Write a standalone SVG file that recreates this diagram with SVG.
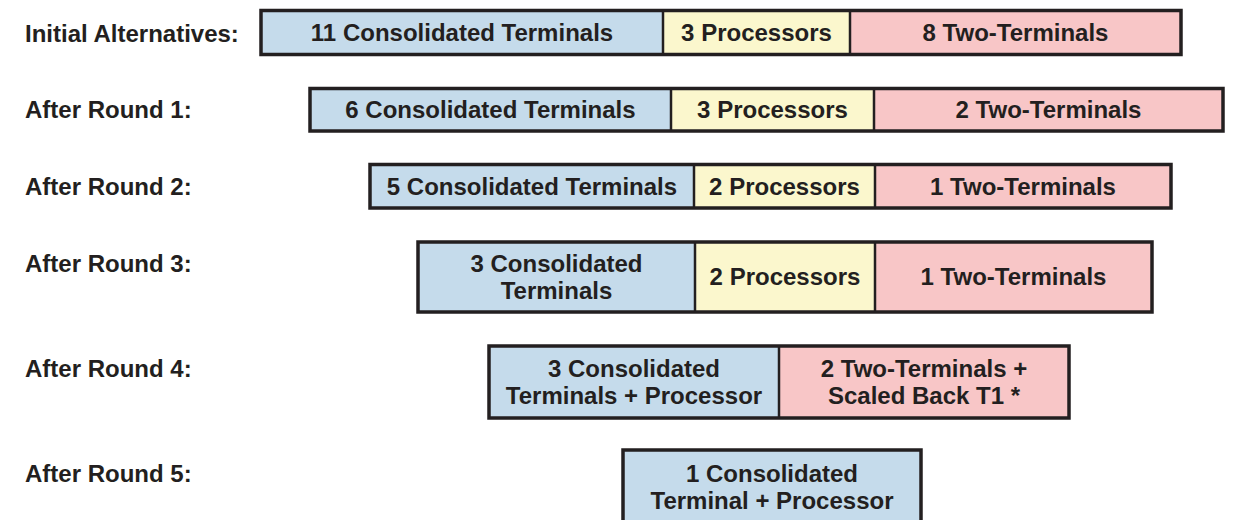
<svg xmlns="http://www.w3.org/2000/svg" width="1256" height="520" viewBox="0 0 1256 520">
<style>
text{font-family:"Liberation Sans",Arial,sans-serif;font-weight:bold;font-size:24px;fill:#231f20}
.lbl{text-anchor:start}
.c{text-anchor:middle}
.blue{fill:#c5dbeb}
.yel{fill:#fbf7cd}
.pink{fill:#f8c6c7}
.frame{fill:none;stroke:#231f20;stroke-width:3.5}
.div{stroke:#231f20;stroke-width:2.5}
</style>
<rect width="1256" height="520" fill="#ffffff"/>
<g id="labels">
<text class="lbl" x="25" y="41.5">Initial Alternatives:</text>
<text class="lbl" x="25" y="118">After Round 1:</text>
<text class="lbl" x="25" y="194.5">After Round 2:</text>
<text class="lbl" x="25" y="272">After Round 3:</text>
<text class="lbl" x="25" y="377">After Round 4:</text>
<text class="lbl" x="25" y="482">After Round 5:</text>
</g>
<!-- Row 0 -->
<g id="r0-consolidated"><rect class="blue" x="261" y="10.5" width="402" height="44"/><text class="c" x="462" y="41">11 Consolidated Terminals</text></g>
<g id="r0-processors"><rect class="yel" x="663" y="10.5" width="187" height="44"/><text class="c" x="756.5" y="41">3 Processors</text></g>
<g id="r0-two"><rect class="pink" x="850" y="10.5" width="331" height="44"/><text class="c" x="1015.5" y="41">8 Two-Terminals</text></g>
<g id="r0-frame"><line class="div" x1="663" y1="10.5" x2="663" y2="54.5"/><line class="div" x1="850" y1="10.5" x2="850" y2="54.5"/><rect class="frame" x="261" y="10.5" width="920" height="44"/></g>
<!-- Row 1 -->
<g id="r1-consolidated"><rect class="blue" x="310" y="88.5" width="361" height="42.5"/><text class="c" x="490.5" y="118">6 Consolidated Terminals</text></g>
<g id="r1-processors"><rect class="yel" x="671" y="88.5" width="203" height="42.5"/><text class="c" x="772.5" y="118">3 Processors</text></g>
<g id="r1-two"><rect class="pink" x="874" y="88.5" width="349" height="42.5"/><text class="c" x="1048.5" y="118">2 Two-Terminals</text></g>
<g id="r1-frame"><line class="div" x1="671" y1="88.5" x2="671" y2="131"/><line class="div" x1="874" y1="88.5" x2="874" y2="131"/><rect class="frame" x="310" y="88.5" width="913" height="42.5"/></g>
<!-- Row 2 -->
<g id="r2-consolidated"><rect class="blue" x="370" y="164.5" width="324" height="43.5"/><text class="c" x="532" y="194.5">5 Consolidated Terminals</text></g>
<g id="r2-processors"><rect class="yel" x="694" y="164.5" width="181" height="43.5"/><text class="c" x="784.5" y="194.5">2 Processors</text></g>
<g id="r2-two"><rect class="pink" x="875" y="164.5" width="296" height="43.5"/><text class="c" x="1023" y="194.5">1 Two-Terminals</text></g>
<g id="r2-frame"><line class="div" x1="694" y1="164.5" x2="694" y2="208"/><line class="div" x1="875" y1="164.5" x2="875" y2="208"/><rect class="frame" x="370" y="164.5" width="801" height="43.5"/></g>
<!-- Row 3 -->
<g id="r3-consolidated"><rect class="blue" x="418" y="242" width="277" height="70"/><text class="c" x="556.5" y="272">3 Consolidated</text><text class="c" x="556.5" y="299">Terminals</text></g>
<g id="r3-processors"><rect class="yel" x="695" y="242" width="180" height="70"/><text class="c" x="785" y="285">2 Processors</text></g>
<g id="r3-two"><rect class="pink" x="875" y="242" width="277" height="70"/><text class="c" x="1013.5" y="285">1 Two-Terminals</text></g>
<g id="r3-frame"><line class="div" x1="695" y1="242" x2="695" y2="312"/><line class="div" x1="875" y1="242" x2="875" y2="312"/><rect class="frame" x="418" y="242" width="734" height="70"/></g>
<!-- Row 4 -->
<g id="r4-consolidated"><rect class="blue" x="489" y="346" width="290" height="72"/><text class="c" x="634" y="377">3 Consolidated</text><text class="c" x="634" y="403.5">Terminals + Processor</text></g>
<g id="r4-two"><rect class="pink" x="779" y="346" width="290" height="72"/><text class="c" x="924" y="377">2 Two-Terminals +</text><text class="c" x="924" y="403.5">Scaled Back T1 *</text></g>
<g id="r4-frame"><line class="div" x1="779" y1="346" x2="779" y2="418"/><rect class="frame" x="489" y="346" width="580" height="72"/></g>
<!-- Row 5 -->
<g id="r5-consolidated"><rect class="blue" x="623" y="450" width="298" height="80"/><text class="c" x="772" y="482">1 Consolidated</text><text class="c" x="772" y="508.5">Terminal + Processor</text></g>
<g id="r5-frame"><rect class="frame" x="623" y="450" width="298" height="80"/></g>
<g id="connectors"></g>
</svg>
